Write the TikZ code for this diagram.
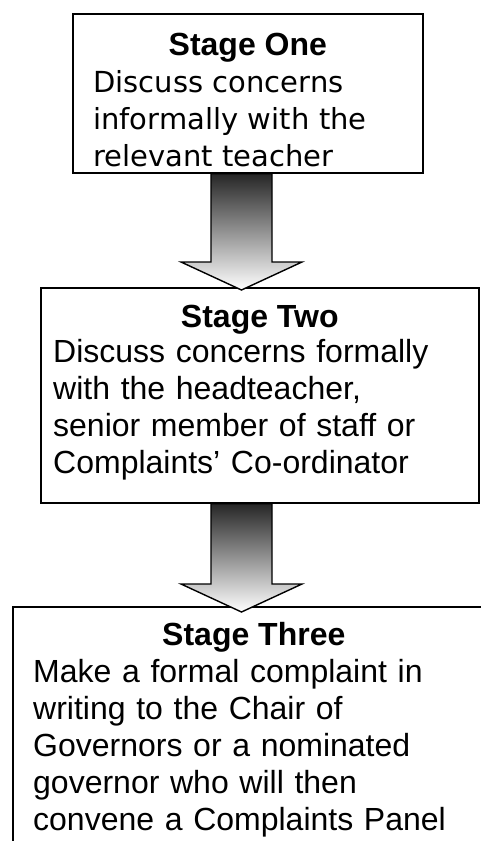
\documentclass[tikz,border=0pt]{standalone}
\usepackage{fontspec}
\setmainfont{Liberation Sans}
\newfontfamily\verdanafont{DejaVu Sans}
\usetikzlibrary{calc}

\tikzset{
  stage/.style={draw, line width=1.6pt, anchor=north west, inner sep=0pt},
  stagetitle/.style={anchor=base, inner sep=0pt, font=\fontsize{32}{37}\selectfont\bfseries},
  stagetext/.style={anchor=base west, inner sep=0pt, align=left, text width=#1,
    font=\fontsize{32}{37}\selectfont},
  flowarrow/.style={draw, line width=1.4pt, line join=miter, top color=black!85, bottom color=white}
}

% block arrow from the bottom of #1 to the top of #2, tip #3 below it
\newcommand{\stagearrow}[3]{%
  \path[flowarrow] let \p1=(#1.south -| mid), \p2=(#2.north -| mid) in
    (\x1-30.5pt,\y1) -- (\x1-30.5pt,{\y2-#3+28pt}) -- (\x1-60.5pt,{\y2-#3+28pt})
    -- (\x2,{\y2-#3}) -- (\x1+60.5pt,{\y2-#3+28pt}) -- (\x1+30.5pt,{\y2-#3+28pt})
    -- (\x1+30.5pt,\y1) -- cycle;}

\begin{document}
\begin{tikzpicture}[x=1pt,y=-1pt]
  \useasboundingbox (0,0) rectangle (481,841);
  \clip (0,0) rectangle (481,841);

% the three stages
  \node[stage, minimum width=350pt, minimum height=159pt] (one) at (72,13) {};
  \node[stage, minimum width=438pt, minimum height=215pt] (two) at (40,287) {};
  \node[stage, minimum width=482pt, minimum height=260pt] (three) at (12,606) {};

  \node[stagetitle] (one title) at ($(one.north)+(0,42)$) {Stage One};
  \node[stagetext=320pt, font=\verdanafont\fontsize{29}{37}\selectfont] (one text)
    at ($(one.north west)+(21,79)$) {Discuss concerns\\informally with the\\relevant teacher};

  \node[stagetitle] (two title) at ($(two.north)+(0,40)$) {Stage Two};
  \node[stagetext=420pt] (two text) at ($(two.north west)+(13,75)$)
    {Discuss concerns formally\\with the headteacher,\\senior member of staff or\\Complaints' Co-ordinator};

  \node[stagetitle] (three title) at ($(three.north)+(0,39)$) {Stage Three};
  \node[stagetext=450pt] (three text) at ($(three.north west)+(21,76)$)
    {Make a formal complaint in\\writing to the Chair of\\Governors or a nominated\\governor who will then\\convene a Complaints Panel};

% the links
  \coordinate (mid) at (241.5,0);
  \stagearrow{one}{two}{3pt}
  \stagearrow{two}{three}{6pt}
\end{tikzpicture}
\end{document}
